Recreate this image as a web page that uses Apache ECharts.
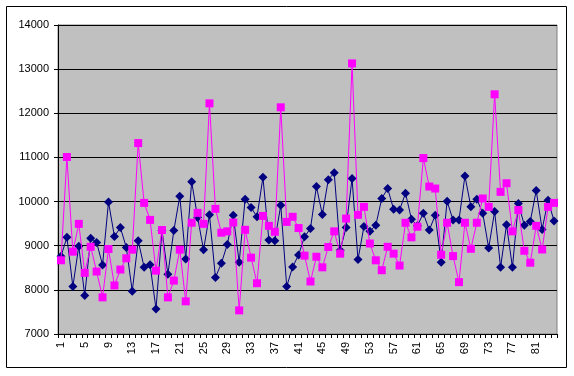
<!DOCTYPE html>
<html>
<head>
<meta charset="utf-8">
<script src="https://cdn.jsdelivr.net/npm/echarts@6/dist/echarts.min.js"></script>
<style>html,body{margin:0;padding:0;background:#fff}#c{width:574px;height:376px}</style>
</head>
<body>
<div id="c"></div>
<script>
const categories = [];
for (let i = 1; i <= 84; i++) categories.push(String(i));

const seriesBlue = [
 8760, 9190, 8075, 8990, 7870, 9170, 9075, 8565, 9990, 9210, 9410, 8960,
 7970, 9115, 8510, 8570, 7565, 9345, 8355, 9345, 10120, 8700, 10450, 9640,
 8910, 9700, 8280, 8600, 9030, 9690, 8625, 10055, 9865, 9655, 10550, 9130,
 9115, 9915, 8075, 8520, 8790, 9205, 9390, 10340, 9705, 10495, 10655, 8900,
 9415, 10520, 8685, 9435, 9325, 9465, 10070, 10295, 9825, 9810, 10190, 9600,
 9450, 9735, 9355, 9690, 8625, 10010, 9580, 9580, 10580, 9885, 10055, 9735,
 8950, 9775, 8510, 9475, 8510, 9955, 9465, 9550, 10250, 9370, 10030, 9560
];

const seriesMagenta = [
 8670, 11010, 8865, 9495, 8385, 8975, 8415, 7830, 8925, 8100, 8460, 8715,
 8910, 11325, 9970, 9585, 8435, 9355, 7830, 8210, 8910, 7740, 9520, 9745,
 9495, 12225, 9835, 9295, 9325, 9525, 7535, 9360, 8730, 8150, 9675, 9450,
 9315, 12135, 9540, 9655, 9400, 8775, 8190, 8750, 8510, 8970, 9325, 8820,
 9615, 13130, 9700, 9880, 9050, 8670, 8445, 8975, 8820, 8550, 9520, 9190,
 9430, 10985, 10340, 10295, 8795, 9520, 8765, 8175, 9520, 8930, 9520, 10070,
 9880, 12430, 10220, 10415, 9325, 9810, 8885, 8615, 9450, 8915, 9880, 9970
];

const yTicks = { min: 7000, max: 14000, interval: 1000 };

const chart = echarts.init(document.getElementById('c'), null, { renderer: 'canvas' });
const font = "'Liberation Sans', Arial, sans-serif";
chart.setOption({
  animation: false,
  backgroundColor: '#ffffff',
  graphic: [{
    type: 'rect',
    shape: { x: 6.5, y: 6.5, width: 560, height: 361 },
    style: { fill: 'none', stroke: '#000', lineWidth: 1 },
    silent: true, z: 100
  }],
  grid: {
    left: 58, right: 17, top: 25, bottom: 42,
    show: true, backgroundColor: '#C0C0C0', borderColor: '#808080', borderWidth: 1
  },
  xAxis: {
    type: 'category',
    data: categories,
    boundaryGap: true,
    axisLine: { lineStyle: { color: '#000', width: 1 } },
    axisTick: { show: true, interval: 0, length: 4, lineStyle: { color: '#000' } },
    axisLabel: { interval: 3, rotate: 90, margin: 8, fontSize: 11, color: '#000', fontFamily: font },
    splitLine: { show: false }
  },
  yAxis: {
    type: 'value',
    min: yTicks.min, max: yTicks.max, interval: yTicks.interval,
    axisLine: { show: true, lineStyle: { color: '#000', width: 1 } },
    axisTick: { show: true, length: 4, lineStyle: { color: '#000' } },
    axisLabel: { margin: 9, fontSize: 11, color: '#000', fontFamily: font, formatter: v => String(v) },
    splitLine: { show: true, lineStyle: { color: '#000', width: 1 } }
  },
  series: [
    {
      type: 'line', data: seriesBlue,
      symbol: 'diamond', symbolSize: 9, showAllSymbol: true,
      itemStyle: { color: '#000080' },
      lineStyle: { color: '#000080', width: 1 },
      z: 2
    },
    {
      type: 'line', data: seriesMagenta,
      symbol: 'rect', symbolSize: 8, showAllSymbol: true,
      itemStyle: { color: '#FF00FF' },
      lineStyle: { color: '#FF00FF', width: 1 },
      z: 3
    }
  ]
});
</script>
</body>
</html>
